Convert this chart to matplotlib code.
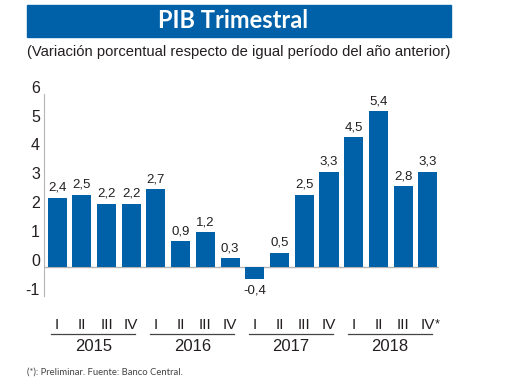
import matplotlib.pyplot as plt
from matplotlib.patches import Rectangle
from matplotlib.transforms import ScaledTranslation

# data
years = ['2015', '2016', '2017', '2018']
quarters = ['I', 'II', 'III', 'IV'] * 4
values = [2.4, 2.5, 2.2, 2.2,
          2.7, 0.9, 1.2, 0.3,
          -0.4, 0.5, 2.5, 3.3,
          4.5, 5.4, 2.8, 3.3]
value_labels = ['2,4', '2,5', '2,2', '2,2',
                '2,7', '0,9', '1,2', '0,3',
                '-0,4', '0,5', '2,5', '3,3',
                '4,5', '5,4', '2,8', '3,3']

blue = '#0061a9'
dark = '#231f20'
narrow = ['Liberation Sans Narrow', 'Liberation Sans', 'DejaVu Sans']

fig = plt.figure(figsize=(5.2, 3.9), dpi=100)

# title bar
fig.patches.append(Rectangle((27 / 520, 1 - 37 / 390), 424 / 520, 32 / 390,
                             transform=fig.transFigure, color=blue, zorder=0))
fig.text(233 / 520, 1 - 21 / 390, 'PIB Trimestral', color='white',
         fontsize=17, fontweight='bold', family=['Lato', 'DejaVu Sans'],
         ha='center', va='center')
fig.text(27 / 520, 1 - 52 / 390,
         '(Variación porcentual respecto de igual período del año anterior)',
         color=dark, fontsize=10.65, family=narrow, ha='left', va='center')
fig.text(27 / 520, 1 - 372 / 390, '(*): Preliminar. Fuente: Banco Central.',
         color='#444444', fontsize=6.8, family=['Lato', 'DejaVu Sans'],
         ha='left', va='center')

ax = fig.add_axes([44 / 520, 1 - 296 / 390, 395 / 520, 202.3 / 390])
x = list(range(len(values)))
ax.bar(x, values, width=0.77, color=blue, zorder=2)
ax.axhline(0, color='#b5b5b5', lw=1, zorder=1)
ax.set_xlim(-0.53, 15.45)
ax.set_ylim(-1, 6)

for s in ['top', 'right', 'bottom']:
    ax.spines[s].set_visible(False)
ax.spines['left'].set_color('#b5b5b5')
ax.set_xticks([])
ax.set_yticks(range(-1, 7))
ax.set_yticklabels([str(v) for v in range(-1, 7)], family=narrow,
                   fontsize=11.5, color=dark)
ax.tick_params(axis='y', length=0, pad=3)
for lab in ax.get_yticklabels():
    lab.set_transform(lab.get_transform() + ScaledTranslation(0, 7 / 100, fig.dpi_scale_trans))

# value labels
for xi, v, t in zip(x, values, value_labels):
    off = 10 if v >= 0 else -12
    ax.annotate(t, (xi, v), xytext=(0, off), textcoords='offset pixels',
                ha='center', va='center', fontsize=9.5, family=narrow, color=dark)

# quarter labels
trans = ax.get_xaxis_transform()
for xi, q in zip(x, quarters):
    ax.text(xi, -0.144, q, transform=trans, ha='center', va='center',
            fontsize=11, family=narrow, color=dark)
ax.annotate('*', (x[-1], -0.144), xycoords=trans, xytext=(9, 1),
            textcoords='offset pixels', ha='center', va='center',
            fontsize=9, family=narrow, color=dark)

# year underlines and labels
for i, y in enumerate(years):
    ax.plot([4 * i - 0.24, 4 * i + 3.16], [-0.188, -0.188], transform=trans,
            color='#444444', lw=0.9, clip_on=False)
    ax.text(4 * i + 1.47, -0.25, y, transform=trans, ha='center', va='center',
            fontsize=12, family=narrow, color=dark)

fig.savefig('out.png', dpi=100)
